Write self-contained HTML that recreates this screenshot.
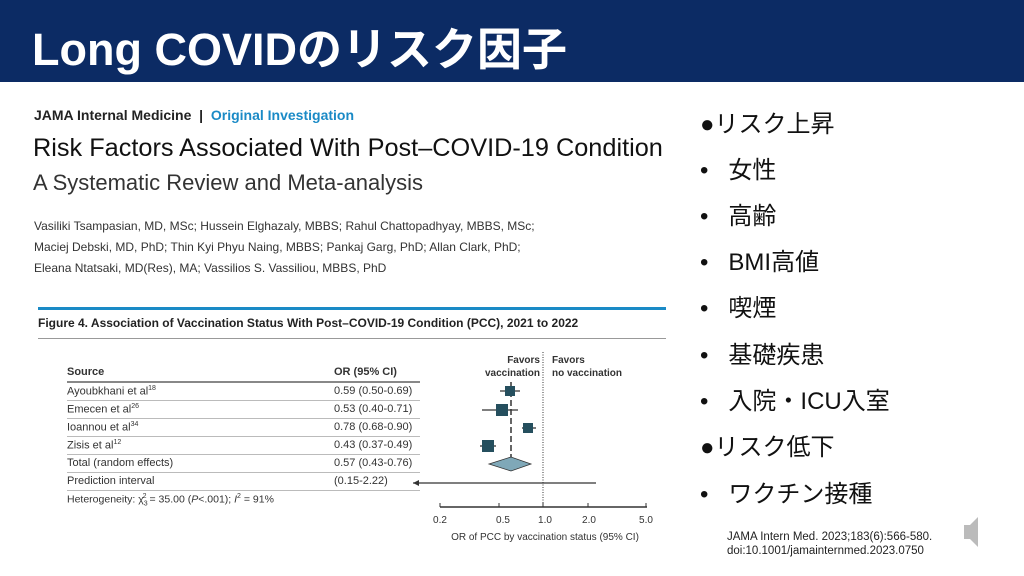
<!DOCTYPE html>
<html><head><meta charset="utf-8"><style>
body{margin:0;width:1024px;height:576px;background:#fff;position:relative;overflow:hidden;font-family:"Liberation Sans","Noto Sans CJK JP",sans-serif}
.a{position:absolute;white-space:nowrap}
.hdr{left:0;top:0;width:1024px;height:82px;background:#0c2b64}
.row{position:absolute;left:67px;width:353px;height:17px;border-bottom:1px solid #bbb;font-size:11px;color:#333}
.row span{position:absolute;top:2px}
.r{font-size:24px;color:#111}
</style></head><body>
<div class="a hdr"></div>
<div class="a" style="left:32px;top:13px;font-size:45px;font-weight:bold;color:#fff">Long COVIDのリスク因子</div>

<div class="a" style="left:34px;top:107px;font-size:14px;font-weight:bold;color:#222">JAMA Internal Medicine &nbsp;|&nbsp; <span style="color:#1a8ac6">Original Investigation</span></div>
<div class="a" style="left:33px;top:134px;font-size:25.3px;color:#111">Risk Factors Associated With Post–COVID-19 Condition</div>
<div class="a" style="left:33px;top:170px;font-size:22px;color:#333">A Systematic Review and Meta-analysis</div>
<div class="a" style="left:34px;top:216px;font-size:12px;color:#333;line-height:21px">Vasiliki Tsampasian, MD, MSc; Hussein Elghazaly, MBBS; Rahul Chattopadhyay, MBBS, MSc;<br>Maciej Debski, MD, PhD; Thin Kyi Phyu Naing, MBBS; Pankaj Garg, PhD; Allan Clark, PhD;<br>Eleana Ntatsaki, MD(Res), MA; Vassilios S. Vassiliou, MBBS, PhD</div>

<div class="a" style="left:38px;top:307px;width:628px;height:3px;background:#1a8ac6"></div>
<div class="a" style="left:38px;top:316px;font-size:12px;font-weight:bold;color:#222">Figure 4. Association of Vaccination Status With Post–COVID-19 Condition (PCC), 2021 to 2022</div>
<div class="a" style="left:38px;top:338px;width:628px;height:1px;background:#999"></div>

<div class="a" style="left:67px;top:366px;font-size:11px;font-weight:bold;color:#333">Source</div>
<div class="a" style="left:334px;top:366px;font-size:11px;font-weight:bold;color:#333">OR (95% CI)</div>
<div class="a" style="left:67px;top:381px;width:353px;height:2px;background:#888"></div>
<div class="row" style="top:383px"><span style="left:0">Ayoubkhani et al<sup style="font-size:7px">18</sup></span><span style="left:267px">0.59 (0.50-0.69)</span></div>
<div class="row" style="top:401px"><span style="left:0">Emecen et al<sup style="font-size:7px">26</sup></span><span style="left:267px">0.53 (0.40-0.71)</span></div>
<div class="row" style="top:419px"><span style="left:0">Ioannou et al<sup style="font-size:7px">34</sup></span><span style="left:267px">0.78 (0.68-0.90)</span></div>
<div class="row" style="top:437px"><span style="left:0">Zisis et al<sup style="font-size:7px">12</sup></span><span style="left:267px">0.43 (0.37-0.49)</span></div>
<div class="row" style="top:455px"><span style="left:0">Total (random effects)</span><span style="left:267px">0.57 (0.43-0.76)</span></div>
<div class="row" style="top:473px"><span style="left:0">Prediction interval</span><span style="left:267px">(0.15-2.22)</span></div>
<div class="a" style="left:67px;top:493px;font-size:10.5px;color:#333">Heterogeneity: χ<sub style="font-size:7px">3</sub><sup style="font-size:7px;margin-left:-5px">2</sup> = 35.00 (<i>P</i>&lt;.001); <i>I</i><sup style="font-size:7px">2</sup> = 91%</div>

<div class="a" style="left:470px;top:354px;font-size:10px;font-weight:bold;color:#333;text-align:right;width:70px;line-height:13px">Favors<br>vaccination</div>
<div class="a" style="left:552px;top:354px;font-size:10px;font-weight:bold;color:#333;line-height:13px">Favors<br>no vaccination</div>
<svg class="a" style="left:0;top:0" width="1024" height="576">
<line x1="543" y1="352" x2="543" y2="507" stroke="#333" stroke-dasharray="1,1.5"/>
<line x1="511" y1="382" x2="511" y2="462" stroke="#333" stroke-dasharray="6,3" stroke-width="1.5"/>
<g stroke="#333" stroke-width="1.3">
<line x1="500" y1="391" x2="520" y2="391"/><line x1="482" y1="410" x2="518" y2="410"/>
<line x1="522" y1="428" x2="536" y2="428"/><line x1="480" y1="446" x2="496" y2="446"/>
<line x1="413" y1="483" x2="596" y2="483"/>
</g>
<polygon points="413,483 419,480 419,486" fill="#333"/>
<g fill="#254f5e">
<rect x="505" y="386" width="10" height="10"/><rect x="496" y="404" width="12" height="12"/>
<rect x="523" y="423" width="10" height="10"/><rect x="482" y="440" width="12" height="12"/>
</g>
<polygon points="489,464 511,457 531,464 511,471" fill="#7fa8b8" stroke="#333" stroke-width="0.8"/>
<line x1="440" y1="507" x2="647" y2="507" stroke="#333" stroke-width="1.5"/>
<g stroke="#333"><line x1="440" y1="503" x2="440" y2="507"/><line x1="499" y1="503" x2="499" y2="507"/><line x1="543" y1="503" x2="543" y2="507"/><line x1="588" y1="503" x2="588" y2="507"/><line x1="646" y1="503" x2="646" y2="507"/></g>
<g font-size="10" fill="#333" font-family="Liberation Sans" text-anchor="middle">
<text x="440" y="523">0.2</text><text x="503" y="523">0.5</text><text x="545" y="523">1.0</text><text x="589" y="523">2.0</text><text x="646" y="523">5.0</text>
<text x="545" y="540">OR of PCC by vaccination status (95% CI)</text></g>
<polygon points="964,525 970,525 978,517 978,547 970,539 964,539" fill="#bbb"/>
</svg>

<div class="a r" style="left:700px;top:104px">●リスク上昇</div>
<div class="a r" style="left:700px;top:150px">•&nbsp;&nbsp; 女性</div>
<div class="a r" style="left:700px;top:196px">•&nbsp;&nbsp; 高齢</div>
<div class="a r" style="left:700px;top:242px">•&nbsp;&nbsp; BMI高値</div>
<div class="a r" style="left:700px;top:288px">•&nbsp;&nbsp; 喫煙</div>
<div class="a r" style="left:700px;top:335px">•&nbsp;&nbsp; 基礎疾患</div>
<div class="a r" style="left:700px;top:381px">•&nbsp;&nbsp; 入院・ICU入室</div>
<div class="a r" style="left:700px;top:427px">●リスク低下</div>
<div class="a r" style="left:700px;top:474px">•&nbsp;&nbsp; ワクチン接種</div>
<div class="a" style="left:727px;top:530px;font-size:11.5px;color:#222;line-height:14px">JAMA Intern Med. 2023;183(6):566-580.<br>doi:10.1001/jamainternmed.2023.0750</div>
</body></html>
